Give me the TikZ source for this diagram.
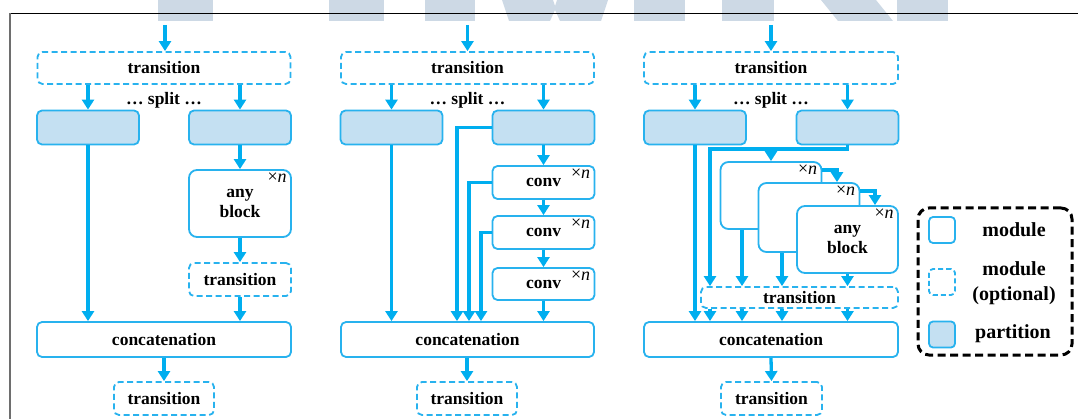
\documentclass[tikz,border=0pt]{standalone}
\usepackage{fontspec}
\setmainfont{Liberation Serif}
\usetikzlibrary{arrows.meta}
\definecolor{lineblue}{RGB}{0,174,239}
\definecolor{boxblue}{RGB}{40,178,238}
\definecolor{partfill}{RGB}{196,224,242}
\definecolor{wmgray}{RGB}{205,217,229}
\definecolor{framegray}{RGB}{110,110,110}
\newcommand{\dlabel}{\bfseries\fontsize{17.5}{20}\selectfont}
\newcommand{\dkey}{\bfseries\fontsize{20}{25}\selectfont}
\newcommand{\dtag}{\normalfont\fontsize{18}{20}\selectfont}
\begin{document}
\begin{tikzpicture}[x=1pt,y=-1pt,
  box/.style={draw=boxblue, line width=1.8pt, rounded corners=5pt, fill=white,
              inner sep=0pt, font=\dlabel, align=center},
  mod/.style={box},
  opt/.style={box, dash pattern=on 6pt off 3.5pt},
  part/.style={box, fill=partfill},
  blk/.style={box, rounded corners=8pt, minimum width=101pt, minimum height=67pt},
  arr/.style={draw=lineblue, line width=3.3pt, -{Triangle[width=12pt,length=10pt]}},
  tag/.style={anchor=north east, inner sep=0pt, font=\dtag, xshift=-5pt, yshift=-4pt},
  lbl/.style={inner sep=0pt, font=\dlabel, align=center},
  keylbl/.style={inner sep=0pt, font=\dkey, align=center},
  legendbox/.style={draw=black, line width=3pt, dash pattern=on 8pt off 4.5pt,
              rounded corners=11pt, inner sep=0pt},
  keybox/.style={box, minimum width=26pt, minimum height=26pt, rounded corners=4pt}
]
\useasboundingbox (0,0) rectangle (1078,419);

% faint lettering along the top edge
\begin{scope}[fill=wmgray]
  \fill (158,0) rectangle (213,21);
  \fill (329,0) rectangle (384,21);
  \fill (425,0) rectangle (475,21);
  \fill (502,0) -- (553,0) -- (555,6) -- (557,0) -- (608,0) -- (601,21) -- (560,21) -- (555,10) -- (550,21) -- (509,21) -- cycle;
  \fill (634,0) rectangle (685,21);
  \fill (722,0) rectangle (774,21);
  \fill (821,0) -- (876,0) -- (893,21) -- (838,21) -- cycle;
  \fill (897,0) rectangle (948,21);
\end{scope}
% frame lines
\draw[black, line width=1pt] (9.5,13.5) -- (1078,13.5);
\draw[framegray, line width=1.6pt] (10,13.5) -- (10,419);

% ---------- column 1: any block ----------
\coordinate (in1) at (165,25);
\node[opt, minimum width=253pt, minimum height=32pt] (t1) at (164,68) {transition};
\node[lbl] (s1) at (164,100) {… split …};
\node[part, minimum width=102pt, minimum height=34pt] (p1a) at (88,127.5) {};
\node[part, minimum width=102pt, minimum height=34pt] (p1b) at (240,127.5) {};
\node[mod, rounded corners=8pt, minimum width=102pt, minimum height=67pt] (ab1) at (240,203.5) {any\\block};
\node[tag] (n1) at (ab1.north east) {×\textit{n}};
\node[opt, minimum width=102pt, minimum height=33pt] (tr1) at (240,279.5) {transition};
\node[mod, minimum width=254pt, minimum height=35pt] (cat1) at (164,339.5) {concatenation};
\node[opt, minimum width=100pt, minimum height=33pt] (bt1) at (164,398.5) {transition};

\draw[arr] (in1) -- (in1 |- t1.north);
\draw[arr] (t1.south -| p1a.north) -- (p1a.north);
\draw[arr] (t1.south -| p1b.north) -- (p1b.north);
\draw[arr] (p1a.south) -- (p1a.south |- cat1.north);
\draw[arr] (p1b.south) -- (ab1.north);
\draw[arr] (ab1.south) -- (tr1.north);
\draw[arr] (tr1.south) -- (tr1.south |- cat1.north);
\draw[arr] (cat1.south) -- (bt1.north);

% ---------- column 2: dense conv chain ----------
\coordinate (in2) at (467.5,25);
\node[opt, minimum width=253pt, minimum height=32pt] (t2) at (467.5,68) {transition};
\node[lbl] (s2) at (467.5,100) {… split …};
\node[part, minimum width=102pt, minimum height=34pt] (p2a) at (391.5,127.5) {};
\node[part, minimum width=102pt, minimum height=34pt] (p2b) at (543.5,127.5) {};
\node[mod, minimum width=102pt, minimum height=33pt] (c21) at (543.5,182.5) {conv};
\node[mod, minimum width=102pt, minimum height=33pt] (c22) at (543.5,232.5) {conv};
\node[mod, minimum width=102pt, minimum height=32pt] (c23) at (543.5,284) {conv};
\node[tag] (n21) at (c21.north east) {×\textit{n}};
\node[tag] (n22) at (c22.north east) {×\textit{n}};
\node[tag] (n23) at (c23.north east) {×\textit{n}};
\node[mod, minimum width=253pt, minimum height=35pt] (cat2) at (467.5,339.5) {concatenation};
\node[opt, minimum width=100pt, minimum height=33pt] (bt2) at (467,398.5) {transition};
\coordinate (d21) at (457,0);
\coordinate (d22) at (469,0);
\coordinate (d23) at (481,0);

\draw[arr] (in2) -- (in2 |- t2.north);
\draw[arr] (t2.south -| p2a.north) -- (p2a.north);
\draw[arr] (t2.south -| p2b.north) -- (p2b.north);
\draw[arr] (p2a.south) -- (p2a.south |- cat2.north);
\draw[arr] (p2b.west) -| (d21 |- cat2.north);
\draw[arr] (c21.west) -| (d22 |- cat2.north);
\draw[arr] (c22.west) -| (d23 |- cat2.north);
\draw[arr] (p2b.south) -- (c21.north);
\draw[arr] (c21.south) -- (c22.north);
\draw[arr] (c22.south) -- (c23.north);
\draw[arr] (c23.south) -- (c23.south |- cat2.north);
\draw[arr] (cat2.south -| bt2.north) -- (bt2.north);

% ---------- column 3: stacked blocks ----------
\coordinate (in3) at (771,25);
\node[opt, minimum width=254pt, minimum height=32pt] (t3) at (771,68) {transition};
\node[lbl] (s3) at (771,100) {… split …};
\node[part, minimum width=102pt, minimum height=34pt] (p3a) at (695,127.5) {};
\node[part, minimum width=102pt, minimum height=34pt] (p3b) at (847.5,127.5) {};
\node[blk] (b1) at (771,195.5) {};
\node[tag] (n31) at (b1.north east) {×\textit{n}};
\node[blk, minimum height=69pt] (b2) at (809,217.5) {};
\node[tag] (n32) at (b2.north east) {×\textit{n}};
\node[blk] (b3) at (847.5,239.5) {any\\block};
\node[tag] (n33) at (b3.north east) {×\textit{n}};
\node[opt, minimum width=197pt, minimum height=21pt] (tr3) at (799.5,297.5) {transition};
\node[mod, minimum width=254pt, minimum height=35pt] (cat3) at (771,339.5) {concatenation};
\node[opt, minimum width=101pt, minimum height=33pt] (bt3) at (771.5,398.5) {transition};
\coordinate (j3) at (710,149);
\coordinate (k1) at (837,170);
\coordinate (k2) at (875,191);
\coordinate (e1) at (742,0);
\coordinate (e2) at (782,0);

\draw[arr] (in3) -- (in3 |- t3.north);
\draw[arr] (t3.south -| p3a.north) -- (p3a.north);
\draw[arr] (t3.south -| p3b.north) -- (p3b.north);
\draw[arr] (p3a.south) -- (p3a.south |- cat3.north);
\draw[arr] (p3b.south) |- (j3) -- (j3 |- tr3.north);
\draw[arr] (j3 -| b1.north) -- (b1.north);
\draw[arr] (k1 -| b1.east) -| (k1 |- b2.north);
\draw[arr] (k2 -| b2.east) -| (k2 |- b3.north);
\draw[arr] (e1 |- b1.south) -- (e1 |- tr3.north);
\draw[arr] (e2 |- b2.south) -- (e2 |- tr3.north);
\draw[arr] (b3.south) -- (b3.south |- tr3.north);
\draw[arr] (j3 |- tr3.south) -- (j3 |- cat3.north);
\draw[arr] (e1 |- tr3.south) -- (e1 |- cat3.north);
\draw[arr] (e2 |- tr3.south) -- (e2 |- cat3.north);
\draw[arr] (b3.south |- tr3.south) -- (b3.south |- cat3.north);
\draw[arr] (cat3.south) -- (bt3.north);

% ---------- legend ----------
\node[legendbox, minimum width=154pt, minimum height=147pt] (lg) at (995,281.5) {};
\node[keybox] (k1box) at (942,230) {};
\node[keybox, dash pattern=on 5pt off 3pt] (k2box) at (942,282) {};
\node[keybox, fill=partfill] (k3box) at (942,334.5) {};
\node[keylbl] (k1txt) at (1014,230) {module};
\node[keylbl] (k2txt) at (1014,283) {module\\(optional)};
\node[keylbl] (k3txt) at (1013,334) {partition};
\end{tikzpicture}
\end{document}
